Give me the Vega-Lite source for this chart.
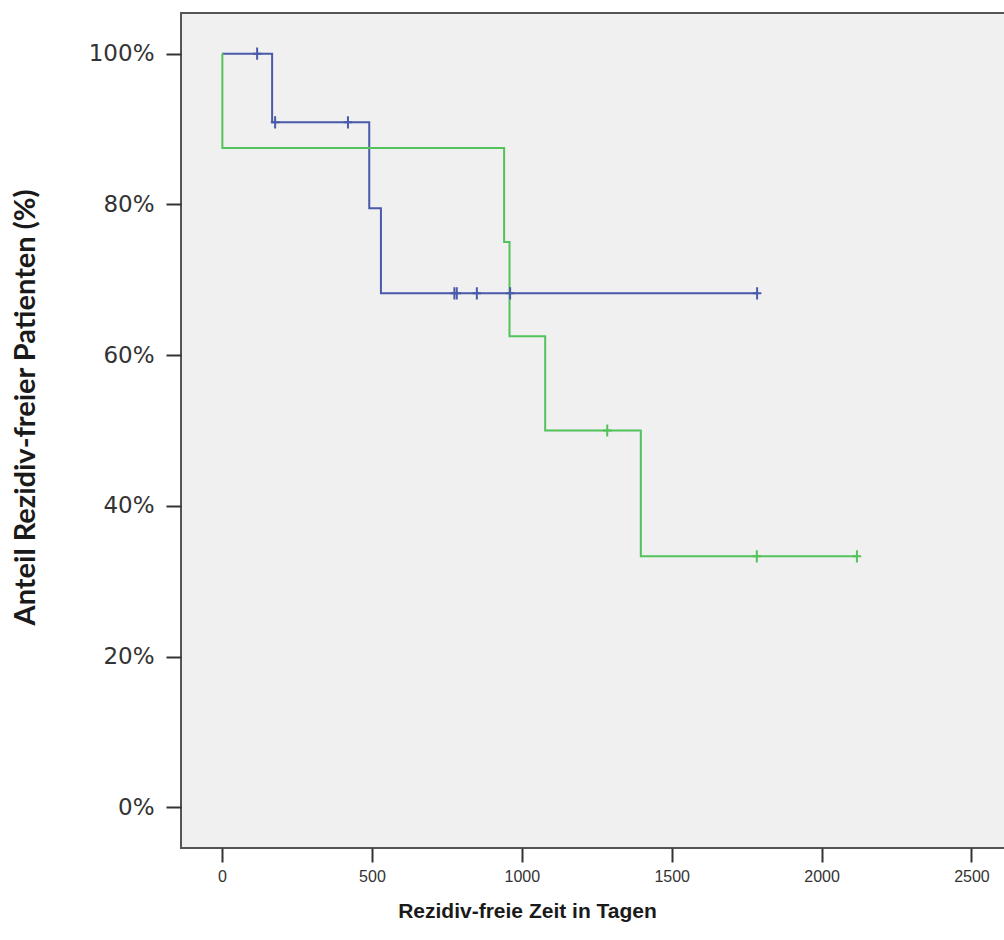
{
  "$schema": "https://vega.github.io/schema/vega-lite/v6.json",
  "autosize": "none",
  "width": 824,
  "height": 835,
  "padding": {"left": 181, "top": 13, "right": 0, "bottom": 92},
  "background": "white",
  "config": {
    "view": {"fill": "#f0f0f0", "stroke": "#555555", "strokeWidth": 2}
  },
  "datasets": {
    "curves": [
      {"group": "A", "tage": 0, "anteil": 1.0},
      {"group": "A", "tage": 167, "anteil": 0.909},
      {"group": "A", "tage": 491, "anteil": 0.795},
      {"group": "A", "tage": 530, "anteil": 0.682},
      {"group": "A", "tage": 1785, "anteil": 0.682},
      {"group": "B", "tage": 0, "anteil": 1.0},
      {"group": "B", "tage": 1, "anteil": 0.875},
      {"group": "B", "tage": 941, "anteil": 0.75},
      {"group": "B", "tage": 959, "anteil": 0.625},
      {"group": "B", "tage": 1078, "anteil": 0.5},
      {"group": "B", "tage": 1397, "anteil": 0.333},
      {"group": "B", "tage": 2120, "anteil": 0.333}
    ],
    "censors": [
      {"group": "A", "tage": 117, "anteil": 1.0},
      {"group": "A", "tage": 177, "anteil": 0.909},
      {"group": "A", "tage": 420, "anteil": 0.909},
      {"group": "A", "tage": 775, "anteil": 0.682},
      {"group": "A", "tage": 783, "anteil": 0.682},
      {"group": "A", "tage": 850, "anteil": 0.682},
      {"group": "A", "tage": 961, "anteil": 0.682},
      {"group": "A", "tage": 1785, "anteil": 0.682},
      {"group": "B", "tage": 1285, "anteil": 0.5},
      {"group": "B", "tage": 1784, "anteil": 0.333},
      {"group": "B", "tage": 2118, "anteil": 0.333}
    ]
  },
  "encoding": {
    "x": {
      "field": "tage", "type": "quantitative",
      "scale": {"domain": [-137, 2612], "nice": false, "zero": false},
      "axis": {
        "title": "Rezidiv-freie Zeit in Tagen",
        "values": [0, 500, 1000, 1500, 2000, 2500],
        "format": "d",
        "grid": false, "domain": false,
        "tickSize": 14, "tickColor": "#333333", "tickWidth": 2,
        "labelFont": "Liberation Sans", "labelFontSize": 16, "labelColor": "#333333",
        "labelPadding": 6,
        "titleFont": "Liberation Sans", "titleFontSize": 21, "titleFontWeight": "bold", "titleColor": "#1a1a1a",
        "titleX": 346, "titleY": 52
      }
    },
    "y": {
      "field": "anteil", "type": "quantitative",
      "scale": {"domain": [-0.054, 1.054], "nice": false, "zero": false},
      "axis": {
        "title": "Anteil Rezidiv-freier Patienten (%)",
        "values": [0, 0.2, 0.4, 0.6, 0.8, 1.0],
        "format": ".0%",
        "grid": false, "domain": false,
        "tickSize": 15, "tickColor": "#333333", "tickWidth": 2,
        "labelFont": "DejaVu Sans", "labelFontSize": 23, "labelColor": "#333333",
        "labelPadding": 12,
        "titleFont": "Lato", "titleFontSize": 29, "titleFontWeight": "bold", "titleColor": "#1a1a1a",
        "titleX": -156, "titleY": 394, "titleAngle": -90, "titleBaseline": "middle"
      }
    },
    "color": {
      "field": "group", "type": "nominal",
      "scale": {"domain": ["A", "B"], "range": ["#4a5aaa", "#52c25a"]},
      "legend": null
    }
  },
  "layer": [
    {
      "data": {"name": "curves"},
      "mark": {"type": "line", "interpolate": "step-after", "strokeWidth": 2},
      "encoding": {"detail": {"field": "group"}}
    },
    {
      "data": {"name": "censors"},
      "mark": {"type": "point", "shape": "M0,-1L0,1M-0.7,0L0.7,0", "filled": false, "strokeWidth": 2, "size": 150, "opacity": 1}
    }
  ]
}
